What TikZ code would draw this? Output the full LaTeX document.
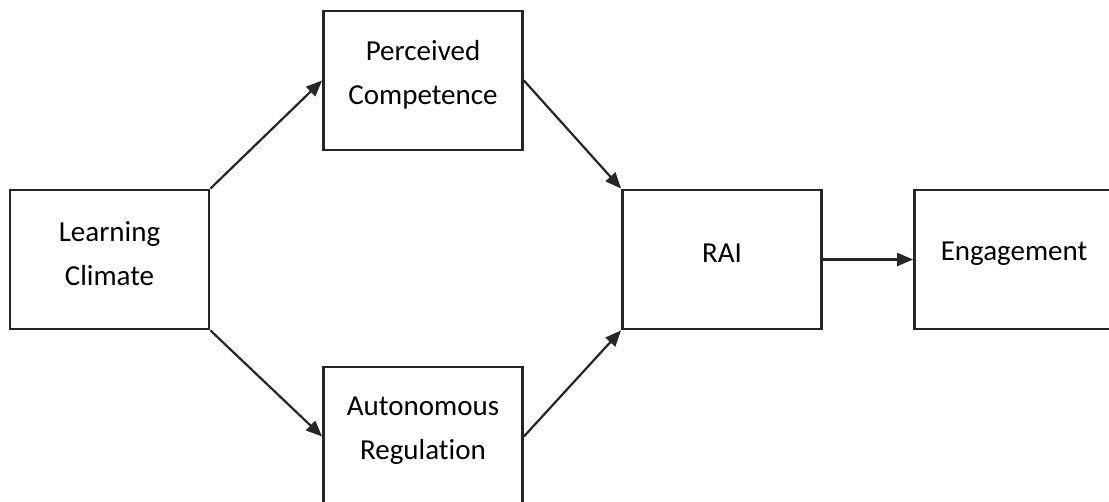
\documentclass[tikz,border=0pt]{standalone}
\usepackage{fontspec}
\setmainfont[Ligatures={NoCommon}]{Carlito}
\usepackage{tikz}
\usetikzlibrary{arrows.meta}

\begin{document}
\begin{tikzpicture}[
  x=0.5pt, y=-0.5pt,
  font=\fontsize{14.5}{22}\selectfont,
  factor/.style={
    draw=black!85, line width=1.4pt,
    align=center, inner sep=0pt,
    text width=96pt,
    minimum width=99.5pt,
    minimum height=69.5pt,
    execute at end node={\endgraf\vspace*{6pt}}
  },
  arrow/.style={
    -{Triangle[length=8pt, width=6.5pt]},
    line width=1.1pt, color=black!85}
]
\useasboundingbox[fill=white] (0,0) rectangle (1109,502);

\node[factor] (climate) at (109.5,259.5)
  {Learning\\Climate};
\node[factor] (comp) at (423,80.5)
  {Perceived\\Competence};
\node[factor] (auton) at (423,436.5)
  {Autonomous\\Regulation};
\node[factor] (rai) at (722,259.5)
  {RAI};
\node[factor] (engage) at (1014,259.5)
  {Engagement};

\draw[arrow] (climate.north east) -- (comp.west);
\draw[arrow] (climate.south east) -- (auton.west);
\draw[arrow] (comp.east) -- (rai.north west);
\draw[arrow] (auton.east) -- (rai.south west);
\draw[arrow] (rai.east) -- (engage.west);
\end{tikzpicture}
\end{document}
